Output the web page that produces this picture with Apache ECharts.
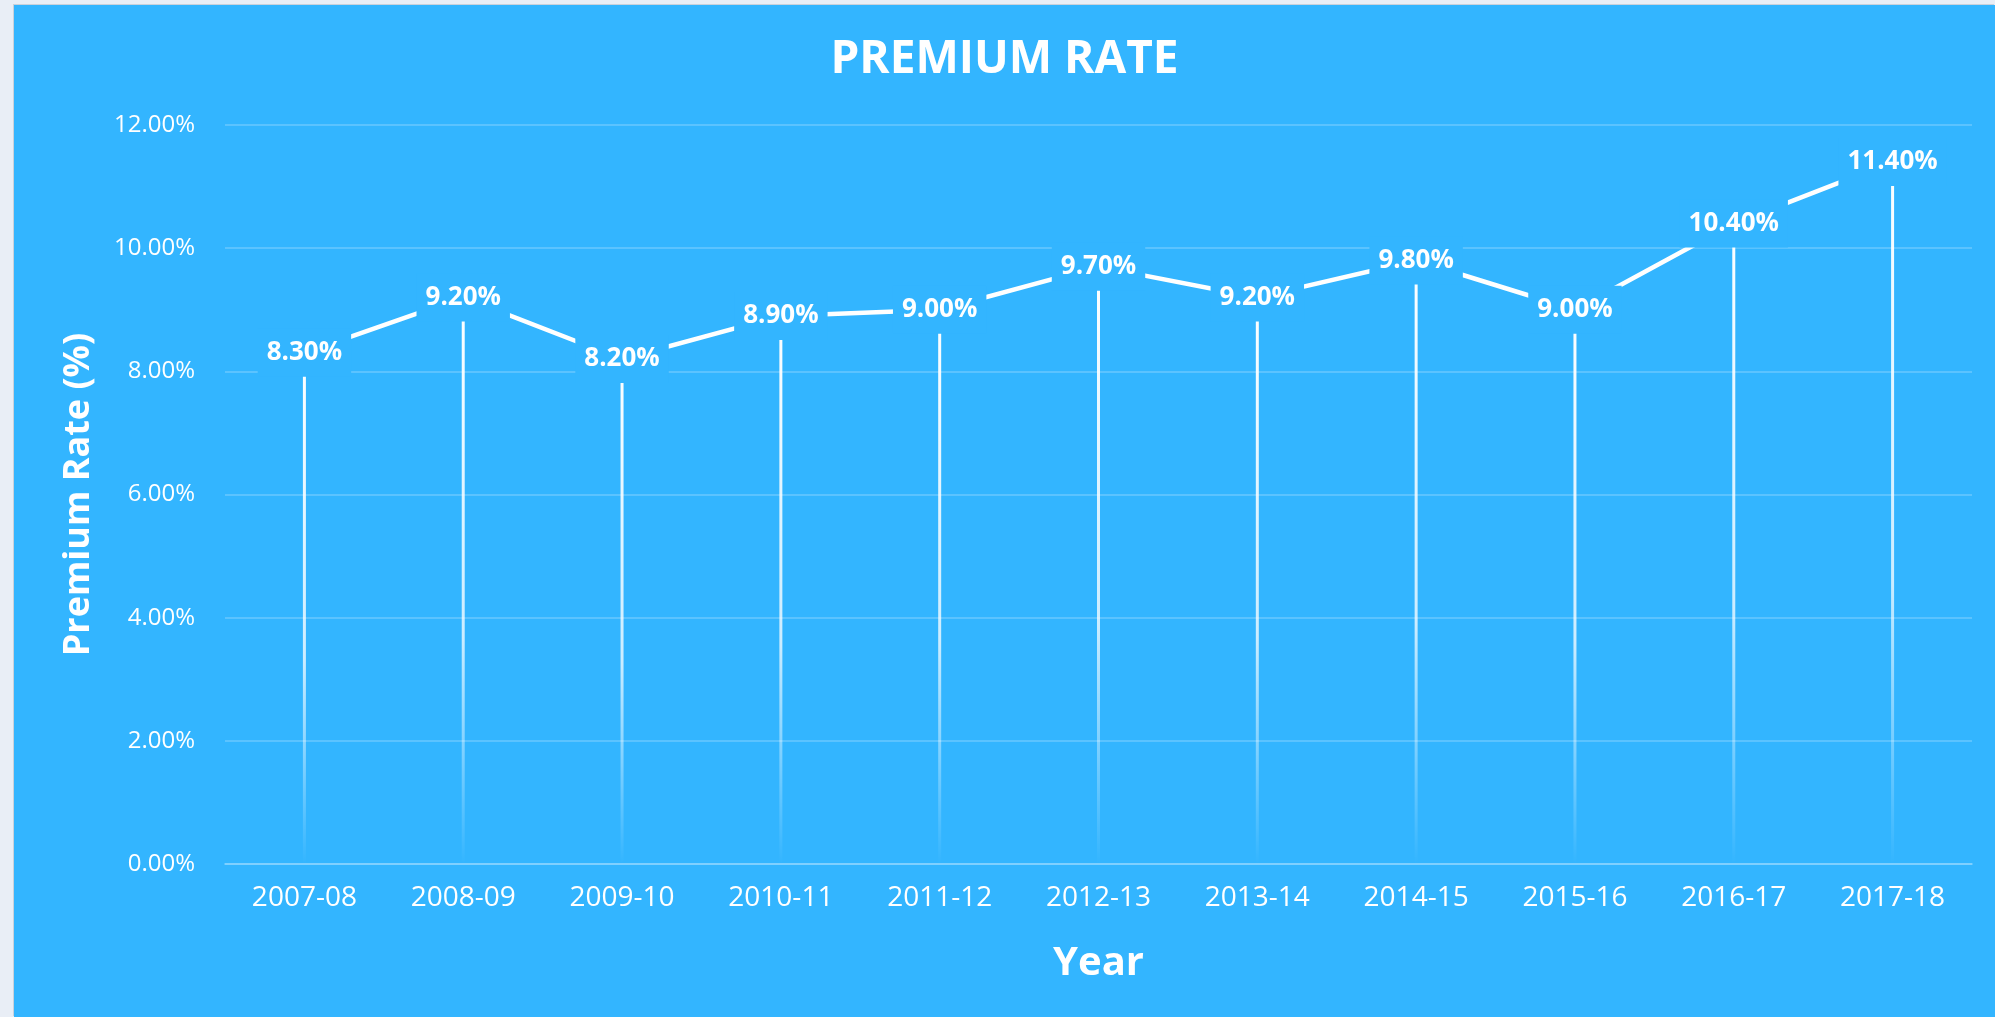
<!DOCTYPE html>
<html>
<head>
<meta charset="utf-8">
<title>Premium Rate</title>
<script src="https://cdn.jsdelivr.net/npm/echarts@6/dist/echarts.min.js"></script>
<style>
  html, body {
    margin: 0;
    padding: 0;
    width: 100%;
    height: 100%;
    overflow: hidden;
    background: #e9eef6;
  }
  #chart {
    position: absolute;
    left: 14px;
    top: 5px;
    width: 1981px;
    height: 1012px;
    box-shadow: -1px -1px 0 0 #c9d1db;
  }
</style>
</head>
<body>
<div id="chart"></div>
<script>
const years = ['2007-08', '2008-09', '2009-10', '2010-11', '2011-12', '2012-13', '2013-14', '2014-15', '2015-16', '2016-17', '2017-18']
const premiumRate = [8.3, 9.2, 8.2, 8.9, 9.0, 9.7, 9.2, 9.8, 9.0, 10.4, 11.4]
const yTicks = { min: 0, max: 12, interval: 2 }

const bg = '#33b5ff'
const font = '"Open Sans", "Noto Sans", sans-serif'

const chart = echarts.init(document.getElementById('chart'))
chart.setOption({
  backgroundColor: bg,
  textStyle: {
    fontFamily: font
  },
  title: {
    text: 'PREMIUM RATE',
    left: 'center',
    top: 22,
    textStyle: {
      color: '#fff',
      fontFamily: font,
      fontWeight: 'bold',
      fontSize: 46,
      lineHeight: 56
    }
  },
  grid: {
    left: 211,
    right: 23,
    top: 120,
    bottom: 153
  },
  xAxis: {
    type: 'category',
    data: years,
    name: 'Year',
    nameLocation: 'middle',
    nameGap: 80,
    nameTextStyle: {
      color: '#fff',
      fontSize: 40,
      fontWeight: 'bold'
    },
    axisLine: {
      show: true,
      lineStyle: { color: 'rgba(255,255,255,0.22)', width: 2 }
    },
    axisTick: { show: false },
    axisLabel: {
      color: '#fff',
      fontSize: 28,
      margin: 20,
      interval: 0
    },
    splitLine: { show: false }
  },
  yAxis: {
    type: 'value',
    min: yTicks.min,
    max: yTicks.max,
    interval: yTicks.interval,
    name: 'Premium Rate (%)',
    nameLocation: 'middle',
    nameGap: 128,
    nameRotate: 90,
    nameTextStyle: {
      color: '#fff',
      fontSize: 36,
      fontWeight: 'bold'
    },
    axisLine: { show: false },
    axisTick: { show: false },
    axisLabel: {
      color: '#fff',
      fontSize: 24,
      margin: 30,
      formatter: (v) => v.toFixed(2) + '%'
    },
    splitLine: {
      show: true,
      lineStyle: { color: 'rgba(255,255,255,0.2)', width: 2 }
    }
  },
  series: [
    {
      // thin fading stems
      type: 'bar',
      data: premiumRate,
      barWidth: 3,
      z: 2,
      itemStyle: {
        color: new echarts.graphic.LinearGradient(0, 0, 0, 1, [
          { offset: 0, color: 'rgba(255,255,255,1)' },
          { offset: 0.6, color: 'rgba(255,255,255,0.75)' },
          { offset: 1, color: 'rgba(255,255,255,0)' }
        ])
      }
    },
    {
      type: 'line',
      data: premiumRate,
      z: 5,
      symbol: 'circle',
      symbolSize: 1,
      itemStyle: { color: '#fff' },
      lineStyle: { color: '#fff', width: 4.5 },
      label: {
        show: true,
        position: 'inside',
        color: '#fff',
        fontSize: 26,
        fontWeight: 'bold',
        lineHeight: 30,
        padding: [12, 9, 6, 9],
        backgroundColor: bg,
        formatter: (p) => p.value.toFixed(2) + '%'
      }
    }
  ]
})
</script>
</body>
</html>
